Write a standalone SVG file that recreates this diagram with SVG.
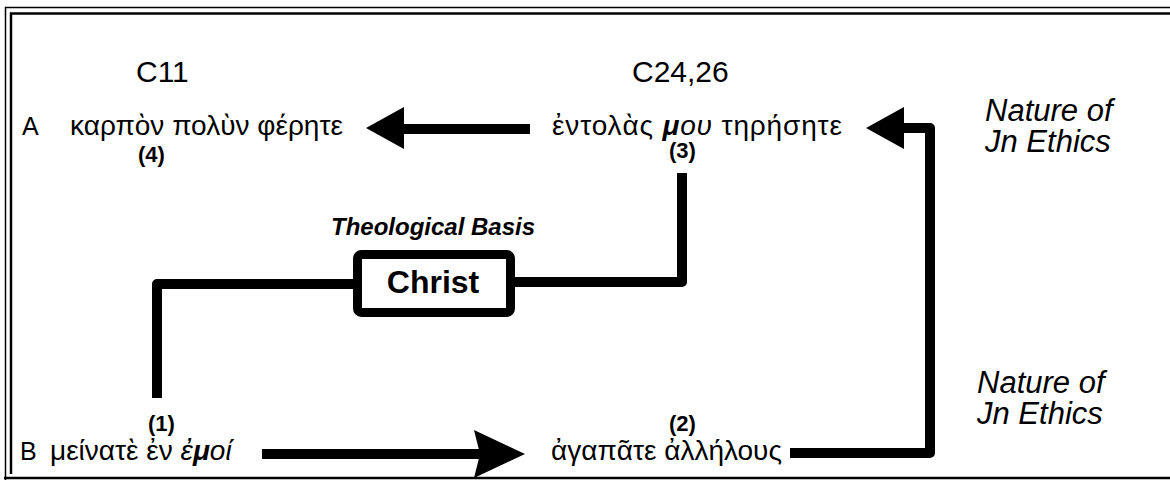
<svg xmlns="http://www.w3.org/2000/svg" width="1170" height="481" viewBox="0 0 1170 481">
<style>
.t{font-family:"Liberation Sans",Arial,sans-serif;fill:#000}
.h{font-size:30px}
.g{font-size:28px}
.lab{font-size:25px}
.n{font-size:22px;font-weight:bold}
.nat{font-size:31px;font-style:italic}
.conn{fill:none;stroke:#000;stroke-width:10;stroke-linejoin:round}
.frame{fill:none;stroke:#000}
</style>
<rect width="1170" height="481" fill="#fff"/>
<g id="frame">
<path class="frame" stroke-width="1.5" d="M5.5 480 V7.5 H1172"/>
<path class="frame" stroke-width="2.5" d="M11 474 V13.5 H1172"/>
<path class="frame" stroke-width="2.5" d="M4 478 H1172"/>
</g>
<g id="headers">
<text class="t h" x="136" y="82">C11</text>
<text class="t h" x="632" y="82">C24,26</text>
</g>
<g id="node4">
<text class="t lab" x="22" y="135">A</text>
<text class="t g" x="70" y="135" textLength="273">καρπὸν πολὺν φέρητε</text>
<text class="t n" x="138" y="162">(4)</text>
</g>
<g id="node3">
<text class="t g" x="552" y="135" textLength="290">ἐντολὰς <tspan font-style="italic" font-weight="bold">μ</tspan><tspan font-style="italic">ου</tspan> τηρήσητε</text>
<text class="t n" x="669" y="158">(3)</text>
</g>
<g id="node1">
<text class="t lab" x="20" y="460">B</text>
<text class="t g" x="50" y="460">μείνατὲ ἐν <tspan font-style="italic">ἐ</tspan><tspan font-style="italic" font-weight="bold">μ</tspan><tspan font-style="italic">οί</tspan></text>
<text class="t n" x="148" y="431">(1)</text>
</g>
<g id="node2">
<text class="t g" x="551" y="460">ἀγαπᾶτε ἀλλήλους</text>
<text class="t n" x="669" y="431">(2)</text>
</g>
<g id="christ">
<text class="t" x="433" y="235" text-anchor="middle" font-size="24" font-style="italic" font-weight="bold">Theological Basis</text>
<rect x="357.5" y="254.5" width="153" height="58" rx="4" fill="#fff" stroke="#000" stroke-width="9"/>
<text class="t" x="433" y="293" text-anchor="middle" font-size="32" font-weight="bold">Christ</text>
</g>
<g id="nature">
<text class="t nat" x="985" y="121">Nature of</text>
<text class="t nat" x="985" y="152">Jn Ethics</text>
<text class="t nat" x="977" y="393">Nature of</text>
<text class="t nat" x="977" y="424">Jn Ethics</text>
</g>
<g id="connectors">
<path class="conn" d="M530 129 H398"/>
<polygon points="366,128 404,107 404,149"/>
<path class="conn" d="M790 453 H930 V128 H900"/>
<polygon points="866,128 904,107 904,149"/>
<path class="conn" stroke-width="9" d="M682 173 V282 H512"/>
<path class="conn" stroke-width="9" d="M356 284 H157 V398"/>
<path class="conn" stroke-width="11" d="M262 454 H482"/>
<polygon points="525,454 474,430 480,454 474,478"/>
</g>
</svg>
